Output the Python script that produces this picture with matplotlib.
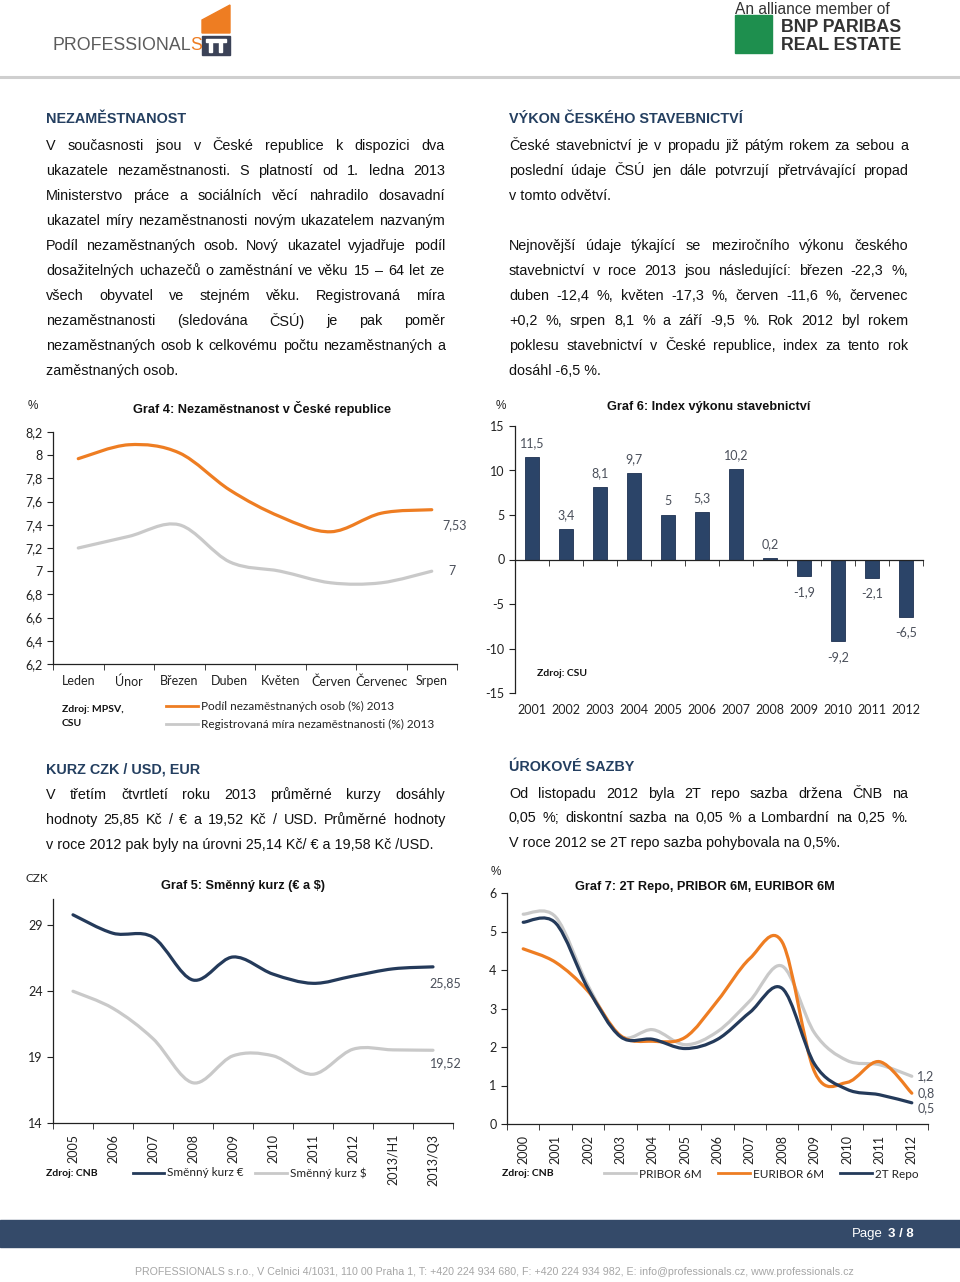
import numpy as np
import matplotlib
matplotlib.use("Agg")
import matplotlib.pyplot as plt
from matplotlib.path import Path
from matplotlib.patches import PathPatch, Rectangle, Polygon
from matplotlib.lines import Line2D
from matplotlib.ticker import FuncFormatter

W, H = 960, 1282

# ---- data ----
months = ["Leden", "Únor", "Březen", "Duben", "Květen", "Červen", "Červenec", "Srpen"]
podil_2013 = [7.97, 8.09, 8.02, 7.70, 7.47, 7.34, 7.50, 7.53]
registrovana_2013 = [7.20, 7.30, 7.40, 7.08, 7.00, 6.90, 6.90, 7.00]

stav_years = ["2001", "2002", "2003", "2004", "2005", "2006",
              "2007", "2008", "2009", "2010", "2011", "2012"]
stav_index = [11.5, 3.4, 8.1, 9.7, 5, 5.3, 10.2, 0.2, -1.9, -9.2, -2.1, -6.5]

kurz_periods = ["2005", "2006", "2007", "2008", "2009", "2010",
                "2011", "2012", "2013/H1", "2013/Q3"]
kurz_eur = [29.8, 28.4, 28.1, 24.85, 26.6, 25.3, 24.6, 25.15, 25.7, 25.85]
kurz_usd = [24.0, 22.7, 20.4, 17.05, 19.1, 19.1, 17.7, 19.6, 19.55, 19.52]

sazby_years = ["2000", "2001", "2002", "2003", "2004", "2005", "2006",
               "2007", "2008", "2009", "2010", "2011", "2012"]
pribor_6m = [5.45, 5.38, 3.60, 2.28, 2.45, 2.06, 2.40, 3.20, 4.10, 2.36, 1.65, 1.54, 1.24]
euribor_6m = [4.55, 4.20, 3.45, 2.30, 2.15, 2.25, 3.20, 4.30, 4.72, 1.35, 1.08, 1.62, 0.80]
repo_2t = [5.24, 5.22, 3.52, 2.27, 2.20, 1.96, 2.20, 2.90, 3.52, 1.55, 0.90, 0.76, 0.55]

ORANGE = "#EE7D22"
LGRAY = "#C9C9C9"
NAVY = "#243A5A"
HEAD = "#243F60"
LBL = "#4A4F5A"
BODY_FONT = "Liberation Sans"
CH_FONT = "Lato"

fig = plt.figure(figsize=(W / 100, H / 100), dpi=100)
renderer = fig.canvas.get_renderer()


def fx(x):
    return x / W


def fy(y):
    return 1 - y / H


def rect(l, t, r, b):
    return [l / W, 1 - b / H, (r - l) / W, (b - t) / H]


def ftext(x, y, s, **kw):
    kw.setdefault("va", "center")
    return fig.text(fx(x), fy(y), s, **kw)


def fline(x0, x1, y, color, lw=2.0):
    fig.add_artist(Line2D([fx(x0), fx(x1)], [fy(y), fy(y)], color=color, lw=lw,
                          transform=fig.transFigure))


def body(lines, x0, x1, y0, step=25, size=10.4):
    # justified paragraph text, None = empty line / paragraph break
    for i, line in enumerate(lines):
        if line is None:
            continue
        y = y0 + i * step
        last = i == len(lines) - 1 or lines[i + 1] is None
        if last:
            ftext(x0, y, line, fontsize=size, family=BODY_FONT, color="#111")
            continue
        words = line.split(" ")
        objs = [ftext(x0, y, w, fontsize=size, family=BODY_FONT, color="#111") for w in words]
        widths = [o.get_window_extent(renderer).width for o in objs]
        gap = (x1 - x0 - sum(widths)) / max(len(words) - 1, 1)
        x = x0
        for o, w in zip(objs, widths):
            o.set_x(fx(x))
            x += w + gap


def smooth_line(ax, xs, ys, color, lw=2.3):
    p = np.column_stack([xs, ys]).astype(float)
    ext = np.vstack([p[0], p, p[-1]])
    verts = [p[0]]
    codes = [Path.MOVETO]
    for i in range(len(p) - 1):
        p0, p1, p2, p3 = ext[i], ext[i + 1], ext[i + 2], ext[i + 3]
        verts += [p1 + (p2 - p0) / 6, p2 - (p3 - p1) / 6, p2]
        codes += [Path.CURVE4] * 3
    ax.add_patch(PathPatch(Path(verts, codes), fill=False, ec=color, lw=lw,
                           capstyle="round", joinstyle="round"))


comma = FuncFormatter(lambda v, pos: f"{round(v, 2):g}".replace(".", ","))


def style_axes(ax, n, labels, rotate=False):
    for s in ["top", "right"]:
        ax.spines[s].set_visible(False)
    for s in ["left", "bottom"]:
        ax.spines[s].set_color("#222")
        ax.spines[s].set_linewidth(0.9)
    ax.set_xlim(-0.5, n - 0.5)
    ax.set_xticks(np.arange(n))
    ax.set_xticklabels(labels, rotation=90 if rotate else 0, fontsize=9,
                       family=CH_FONT, color="#222")
    ax.set_xticks(np.arange(-0.5, n), minor=True)
    ax.tick_params(axis="x", which="major", length=0, pad=8)
    ax.tick_params(axis="x", which="minor", length=4, color="#222")
    ax.tick_params(axis="y", length=4, color="#222", labelsize=9, labelcolor="#222")
    for t in ax.get_yticklabels():
        t.set_family(CH_FONT)
    ax.yaxis.set_major_formatter(comma)
    ax.set_facecolor("none")


# ---- header ----
t = ftext(52, 46, "PROFESSIONAL", fontsize=12.8, family=BODY_FONT, color="#5b5b5b")
wt = t.get_window_extent(renderer).width
ftext(52 + wt, 46, "S", fontsize=12.8, family=BODY_FONT, color=ORANGE)
fig.add_artist(Polygon([(fx(202), fy(20)), (fx(230), fy(5)), (fx(230), fy(33)), (fx(202), fy(33))],
                       closed=True, color=ORANGE, transform=fig.transFigure))
fig.add_artist(Rectangle((fx(202), fy(55)), 28 / W, 19 / H, color="#3b4257",
                         transform=fig.transFigure))
fig.add_artist(Rectangle((fx(206), fy(42)), 20 / W, 3 / H, color="white",
                         transform=fig.transFigure))
for lx in (209, 219):
    fig.add_artist(Rectangle((fx(lx), fy(52)), 3 / W, 10 / H, color="white",
                             transform=fig.transFigure))

ftext(735, 10, "An alliance member of", fontsize=11.2, family=BODY_FONT, color="#333")
fig.add_artist(Rectangle((fx(735), fy(53)), 37 / W, 38 / H, color="#1e8f4e",
                         transform=fig.transFigure))
ftext(781, 28, "BNP PARIBAS", fontsize=12.8, weight="bold", family=BODY_FONT, color="#333")
ftext(781, 45, "REAL ESTATE", fontsize=12.8, weight="bold", family=BODY_FONT, color="#333")
fline(0, 960, 77, "#cfcfcf", lw=2.2)

# ---- text blocks ----
ftext(46, 119, "NEZAMĚSTNANOST", fontsize=10.4, weight="bold", family=BODY_FONT, color=HEAD)
body(["V současnosti jsou v České republice k dispozici dva",
      "ukazatele nezaměstnanosti. S platností od 1. ledna 2013",
      "Ministerstvo práce a sociálních věcí nahradilo dosavadní",
      "ukazatel míry nezaměstnanosti novým ukazatelem nazvaným",
      "Podíl nezaměstnaných osob. Nový ukazatel vyjadřuje podíl",
      "dosažitelných uchazečů o zaměstnání ve věku 15 – 64 let ze",
      "všech obyvatel ve stejném věku. Registrovaná míra",
      "nezaměstnanosti (sledována ČSÚ) je pak poměr",
      "nezaměstnaných osob k celkovému počtu nezaměstnaných a",
      "zaměstnaných osob."], 46, 445, 146)

ftext(509, 119, "VÝKON ČESKÉHO STAVEBNICTVÍ", fontsize=10.4, weight="bold", family=BODY_FONT, color=HEAD)
body(["České stavebnictví je v propadu již pátým rokem za sebou a",
      "poslední údaje ČSÚ jen dále potvrzují přetrvávající propad",
      "v tomto odvětví.",
      None,
      "Nejnovější údaje týkající se meziročního výkonu českého",
      "stavebnictví v roce 2013 jsou následující: březen -22,3 %,",
      "duben -12,4 %, květen -17,3 %, červen -11,6 %, červenec",
      "+0,2 %, srpen 8,1 % a září -9,5 %. Rok 2012 byl rokem",
      "poklesu stavebnictví v České republice, index za tento rok",
      "dosáhl -6,5 %."], 509, 908, 146)

ftext(46, 769, "KURZ CZK / USD, EUR", fontsize=10.4, weight="bold", family=BODY_FONT, color=HEAD)
body(["V třetím čtvrtletí roku 2013 průměrné kurzy dosáhly",
      "hodnoty 25,85 Kč / € a 19,52 Kč / USD. Průměrné hodnoty",
      "v roce 2012 pak byly na úrovni 25,14 Kč/ € a 19,58 Kč /USD."], 46, 445, 795)

ftext(509, 767, "ÚROKOVÉ SAZBY", fontsize=10.4, weight="bold", family=BODY_FONT, color=HEAD)
body(["Od listopadu 2012 byla 2T repo sazba držena ČNB na",
      "0,05 %; diskontní sazba na 0,05 % a Lombardní na 0,25 %.",
      "V roce 2012 se 2T repo sazba pohybovala na 0,5%."], 509, 908, 794, step=24.5)

# ---- Graf 4 ----
ax4 = fig.add_axes(rect(53, 432, 457, 664))
x4 = np.arange(len(months))
smooth_line(ax4, x4, podil_2013, ORANGE)
smooth_line(ax4, x4, registrovana_2013, LGRAY)
ax4.set_ylim(6.2, 8.2)
ax4.set_yticks(np.round(np.arange(6.2, 8.21, 0.2), 1))
style_axes(ax4, len(months), months)
ax4.annotate("7,53", (x4[-1], podil_2013[-1]), xytext=(8, -11), textcoords="offset points",
             va="center", fontsize=9, family=CH_FONT, color=LBL)
ax4.annotate("7", (x4[-1], registrovana_2013[-1]), xytext=(12, 0), textcoords="offset points",
             va="center", fontsize=9, family=CH_FONT, color=LBL)
ftext(33, 406, "%", fontsize=8.5, family=BODY_FONT, color="#222", ha="center")
ftext(262, 408, "Graf 4: Nezaměstnanost v České republice", fontsize=9.2, weight="bold",
      family=BODY_FONT, color="#111", ha="center")
ftext(62, 710, "Zdroj: MPSV,", fontsize=7.5, weight="bold", family=CH_FONT, color="#111")
ftext(62, 724, "CSU", fontsize=7.5, weight="bold", family=CH_FONT, color="#111")
fline(166, 198, 706, ORANGE, 2)
ftext(201, 706, "Podíl nezaměstnaných osob (%) 2013", fontsize=8.5, family=CH_FONT, color="#222")
fline(166, 198, 724, LGRAY, 2)
ftext(201, 724, "Registrovaná míra nezaměstnanosti (%) 2013", fontsize=8.5, family=CH_FONT, color="#222")

# ---- Graf 6 ----
ax6 = fig.add_axes(rect(515, 426, 923, 693))
x6 = np.arange(len(stav_years))
ax6.bar(x6, stav_index, width=0.4, color="#2B4468", edgecolor="#1d3050", lw=0.6, zorder=2)
for xi, v in zip(x6, stav_index):
    ax6.annotate(f"{v:g}".replace(".", ","), (xi, v), xytext=(0, 10 if v >= 0 else -11),
                 textcoords="offset points", ha="center", va="center", fontsize=9,
                 family=CH_FONT, color=LBL)
ax6.set_ylim(-15, 15)
ax6.set_yticks(np.arange(-15, 16, 5))
style_axes(ax6, len(stav_years), [""] * len(stav_years))
ax6.spines["bottom"].set_position(("data", 0))
sec = ax6.secondary_xaxis("bottom")
sec.set_xticks(x6)
sec.set_xticklabels(stav_years, fontsize=9, family=CH_FONT, color="#222")
sec.tick_params(length=0, pad=8)
sec.spines["bottom"].set_visible(False)
ftext(501, 406, "%", fontsize=8.5, family=BODY_FONT, color="#222", ha="center")
ftext(709, 407, "Graf 6: Index výkonu stavebnictví", fontsize=9.2, weight="bold",
      family=BODY_FONT, color="#111", ha="center")
ftext(537, 673, "Zdroj: CSU", fontsize=7.5, weight="bold", family=CH_FONT, color="#111")

# ---- Graf 5 ----
ax5 = fig.add_axes(rect(53, 899, 453, 1123))
x5 = np.arange(len(kurz_periods))
smooth_line(ax5, x5, kurz_eur, NAVY)
smooth_line(ax5, x5, kurz_usd, LGRAY)
ax5.set_ylim(14, 31)
ax5.set_yticks([14, 19, 24, 29])
style_axes(ax5, len(kurz_periods), kurz_periods, rotate=True)
ax5.annotate("25,85", (x5[-1], kurz_eur[-1]), xytext=(9, -12), textcoords="offset points",
             ha="center", va="center", fontsize=9, family=CH_FONT, color=LBL)
ax5.annotate("19,52", (x5[-1], kurz_usd[-1]), xytext=(9, -9), textcoords="offset points",
             ha="center", va="center", fontsize=9, family=CH_FONT, color=LBL)
ftext(37, 878, "CZK", fontsize=8.5, family=CH_FONT, color="#222", ha="center")
ftext(243, 886, "Graf 5: Směnný kurz (€ a $)", fontsize=9.2, weight="bold",
      family=BODY_FONT, color="#111", ha="center")
ftext(46, 1173, "Zdroj: CNB", fontsize=7.5, weight="bold", family=CH_FONT, color="#111")
fline(133, 164, 1173, NAVY, 2)
ftext(167, 1173, "Směnný kurz €", fontsize=8.5, family=CH_FONT, color="#222")
fline(255, 287, 1173, LGRAY, 2)
ftext(290, 1173, "Směnný kurz $", fontsize=8.5, family=CH_FONT, color="#222")

# ---- Graf 7 ----
ax7 = fig.add_axes(rect(507, 893, 928, 1124))
x7 = np.arange(len(sazby_years))
smooth_line(ax7, x7, pribor_6m, LGRAY)
smooth_line(ax7, x7, euribor_6m, ORANGE)
smooth_line(ax7, x7, repo_2t, NAVY)
ax7.set_ylim(0, 6)
ax7.set_yticks(np.arange(0, 7, 1))
style_axes(ax7, len(sazby_years), sazby_years, rotate=True)
for vals, txt, dy in [(pribor_6m, "1,2", 0), (euribor_6m, "0,8", 0), (repo_2t, "0,5", -4)]:
    ax7.annotate(txt, (x7[-1], vals[-1]), xytext=(4, dy), textcoords="offset points",
                 ha="left", va="center", fontsize=9, family=CH_FONT, color=LBL)
ftext(496, 872, "%", fontsize=8.5, family=BODY_FONT, color="#222", ha="center")
ftext(705, 887, "Graf 7: 2T Repo, PRIBOR 6M, EURIBOR 6M", fontsize=9.2, weight="bold",
      family=BODY_FONT, color="#111", ha="center")
ftext(502, 1173, "Zdroj: CNB", fontsize=7.5, weight="bold", family=CH_FONT, color="#111")
fline(604, 636, 1173, LGRAY, 2)
ftext(639, 1174, "PRIBOR 6M", fontsize=8.5, family=CH_FONT, color="#222")
fline(718, 750, 1173, ORANGE, 2)
ftext(753, 1174, "EURIBOR 6M", fontsize=8.5, family=CH_FONT, color="#222")
fline(840, 872, 1173, NAVY, 2)
ftext(875, 1174, "2T Repo", fontsize=8.5, family=CH_FONT, color="#222")

# ---- footer ----
fig.add_artist(Rectangle((0, fy(1247)), 1, 27 / H, color="#344A69", transform=fig.transFigure))
ftext(852, 1234, "Page", fontsize=9.5, family=BODY_FONT, color="white")
ftext(888, 1234, "3 / 8", fontsize=9.5, weight="bold", family=BODY_FONT, color="white")
ftext(494, 1272, "PROFESSIONALS s.r.o., V Celnici 4/1031, 110 00 Praha 1, T: +420 224 934 680, "
      "F: +420 224 934 982, E: info@professionals.cz, www.professionals.cz",
      fontsize=7.7, family=BODY_FONT, color="#a6a6a6", ha="center")

fig.savefig("out.png", dpi=100)
plt.close(fig)
